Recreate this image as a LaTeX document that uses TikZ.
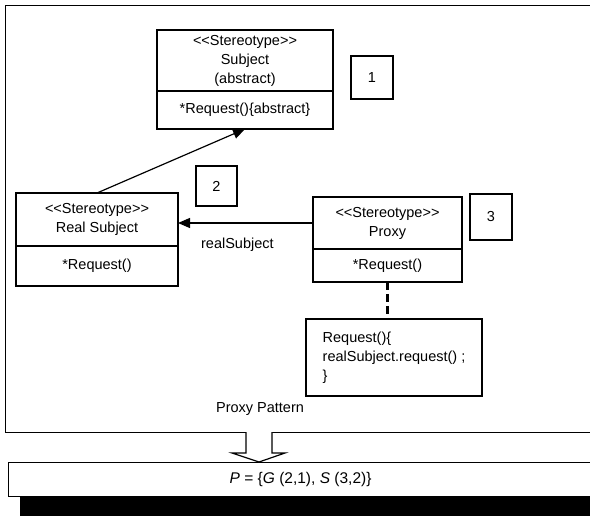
\documentclass[tikz,border=0pt]{standalone}
\usepackage{fontspec}
\setmainfont{Liberation Sans}
\usetikzlibrary{positioning, arrows.meta}
\newcommand{\stype}{<\kern0pt<Stereotype>\kern0pt>}
\tikzstyle{classhead} = [rectangle, draw=black, line width=1.2pt, outer sep=0pt, inner sep=2pt, text centered, align=center]
\tikzstyle{classops} = [classhead]
\tikzstyle{tag} = [rectangle, draw=black, line width=1.2pt, minimum width=42pt, minimum height=43pt]
\tikzstyle{arrow} = [line width=1.2pt, -{Triangle[length=12pt,width=10pt]}]

\begin{document}
\begin{tikzpicture}[x=1pt, y=-1pt, font=\fontsize{14.5}{19}\selectfont]
    \useasboundingbox (0,0) rectangle (590,516);
    \clip (0,0) rectangle (590,516);
    % pattern frame
    \node (pattern) [draw, line width=1.2pt, anchor=north west, minimum width=640pt, minimum height=427pt] at (5,5) {};
    \node (title) at (260,409) {Proxy Pattern};

    % classes
    \node (subjHead) [classhead, minimum width=176pt, minimum height=61pt] at (245,60.5) {\stype\\Subject\\(abstract)};
    \node (subjOps) [classops, minimum width=176pt, minimum height=38pt, below=0pt of subjHead] {*Request()\{abstract\}};
    \node (rsHead) [classhead, minimum width=162pt, minimum height=53pt] at (97,219.5) {\stype\\Real Subject};
    \node (rsOps) [classops, minimum width=162pt, minimum height=40pt, below=0pt of rsHead] {*Request()};
    \node (pxHead) [classhead, minimum width=149pt, minimum height=52pt] at (387.5,223) {\stype\\Proxy};
    \node (pxOps) [classops, minimum width=149pt, minimum height=33pt, below=0pt of pxHead] {*Request()};
    \node (reqBox) [classhead, minimum width=176pt, minimum height=77pt, align=left] at (394,357.5) {Request()\{\\realSubject.request() ;\\\}};

    % numbered tags
    \node (tag1) [tag] at (372,77.5) {1};
    \node (tag2) [tag, minimum width=41pt, minimum height=40pt] at (216.5,186) {2};
    \node (tag3) [tag, minimum height=46pt] at (491,217) {3};

    \draw [arrow] (rsHead.north) -- (subjOps.south);
    \draw [arrow] (pxHead.west) -- node[pos=0.56, below=11pt] {realSubject} (pxHead.west -| rsHead.east);
    \draw [line width=2.8pt, dash pattern=on 8pt off 4pt] (pxOps.south) -- (pxOps.south |- reqBox.north);

    % result
    \fill (20,470) rectangle (660,516);
    \node (formula) [draw, fill=white, line width=1.2pt, anchor=north west, minimum width=584pt, minimum height=34pt, font=\fontsize{15.5}{19}\selectfont] at (8,462) {\textit{P} = \{\textit{G} (2,1), \textit{S} (3,2)\}};
    \draw [line width=1.2pt] (formula.north east) -- ++(40,0);
    \coordinate (flow) at (259,432);
    \draw [line width=1.2pt, fill=white] (flow) ++(-13,0) -- ++(0,21) -- ++(-14,0) -- (flow |- formula.north) -- ++(26,-9) -- ++(-13,0) -- ++(0,-21);
\end{tikzpicture}
\end{document}
